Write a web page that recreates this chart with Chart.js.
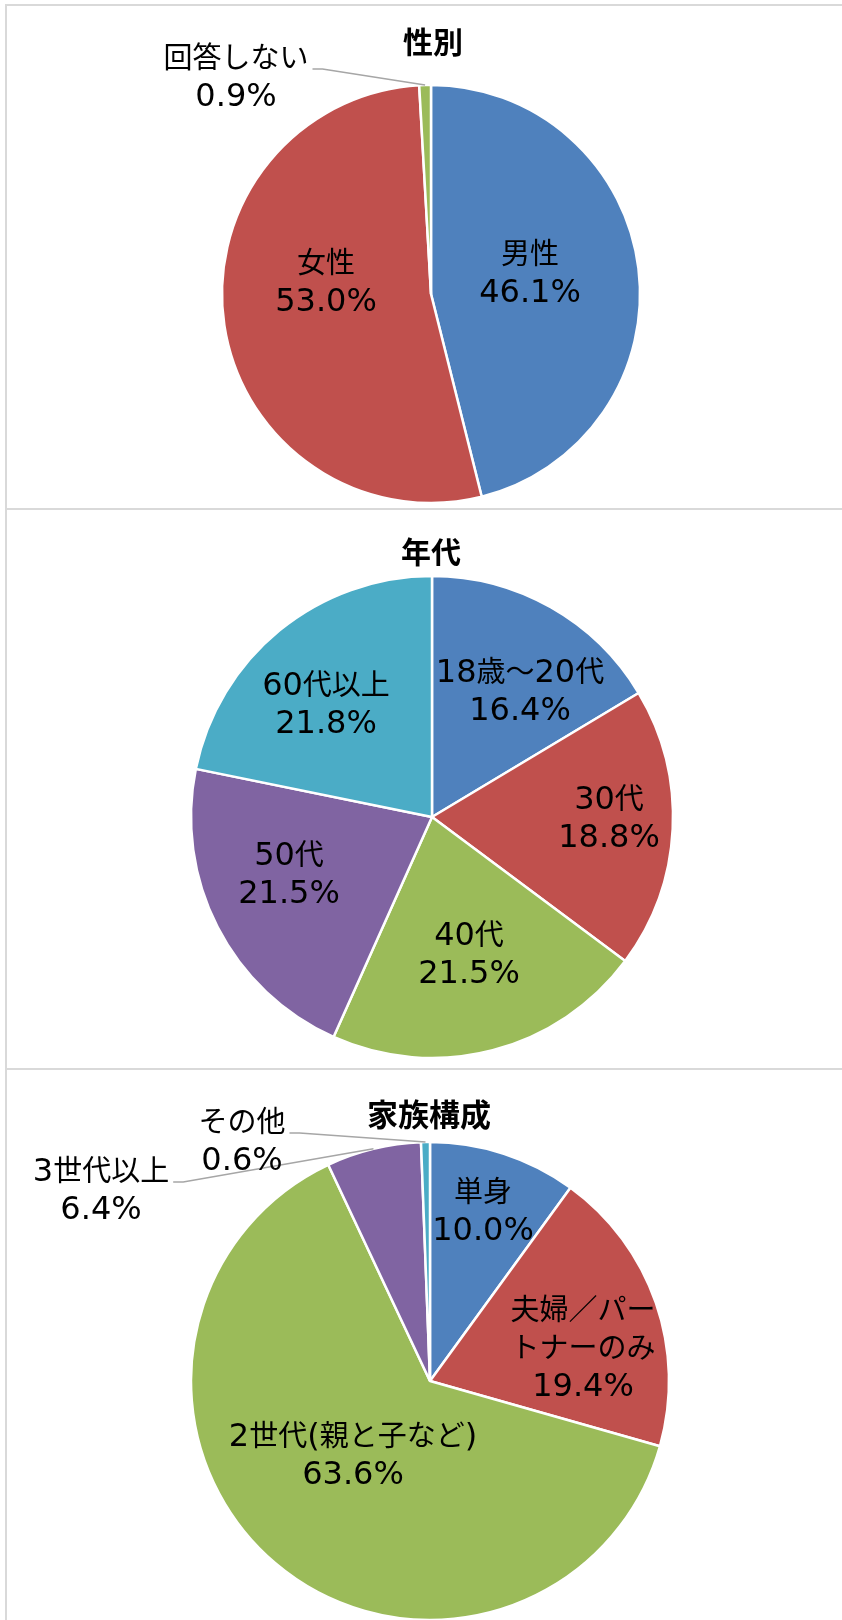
<!DOCTYPE html>
<html lang="ja">
<head>
<meta charset="utf-8">
<title>性別・年代・家族構成</title>
<script src="https://cdn.jsdelivr.net/npm/chart.js@4.4.1/dist/chart.umd.min.js"></script>
<style>
  body { margin: 0; background: #fff; width: 842px; height: 1620px; overflow: hidden; position: relative; }
  canvas { position: absolute; left: 0; }
  .rule { position: absolute; background: #d9d9d9; }
</style>
</head>
<body>
<div class="rule" style="left:5px;top:4px;width:2px;height:1616px"></div>
<div class="rule" style="left:5px;top:4px;width:837px;height:2px"></div>
<div class="rule" style="left:5px;top:508px;width:837px;height:2px"></div>
<div class="rule" style="left:5px;top:1068px;width:837px;height:2px"></div>

<canvas id="genderChart" width="842" height="509" style="top:0"></canvas>
<canvas id="ageChart" width="842" height="560" style="top:509px"></canvas>
<canvas id="familyChart" width="842" height="551" style="top:1069px"></canvas>

<script>
// chart data (percent)
const genderLabels = ['男性', '女性', '回答しない'];
const genderValues = [46.1, 53.0, 0.9];

const ageLabels = ['18歳～20代', '30代', '40代', '50代', '60代以上'];
const ageValues = [16.4, 18.8, 21.5, 21.5, 21.8];

const familyLabels = ['単身', '夫婦／パートナーのみ', '2世代(親と子など)', '3世代以上', 'その他'];
const familyValues = [10.0, 19.4, 63.6, 6.4, 0.6];

// Excel 2010 style palette
const palette = ['#4F81BD', '#C0504D', '#9BBB59', '#8064A2', '#4BACC6'];

const LATIN_FONT = '32px "DejaVu Sans"';
const CJK_FONT = '29px "Noto Sans CJK JP"';
const LINE_GAP = 38;

// label placement relative to the pie centre (Excel "best fit" look)
const genderLayout = [
    { dx: 99, dy: -22 },
    { dx: -105, dy: -13 },
    { dx: -195, dy: -218, leader: true }
];
const ageLayout = [
    { dx: 88, dy: -127 },
    { dx: 177, dy: 0 },
    { dx: 37, dy: 136 },
    { dx: -143, dy: 56 },
    { dx: -106, dy: -114 }
];
const familyLayout = [
    { dx: 53, dy: -171 },
    { dx: 153, dy: -34, wrap: 5 },
    { dx: -77, dy: 73 },
    { dx: -329, dy: -192, leader: true },
    { dx: -188, dy: -241, leader: true }
];

// draw text whose ASCII part uses a Latin font and the rest a CJK font
function drawMixed(ctx, text, cx, cy) {
    const runs = [];
    for (const ch of text) {
        const latin = ch.charCodeAt(0) < 128;
        const last = runs[runs.length - 1];
        if (last && last.latin === latin) last.t += ch;
        else runs.push({ t: ch, latin: latin });
    }
    let total = 0;
    runs.forEach(r => {
        ctx.font = r.latin ? LATIN_FONT : CJK_FONT;
        r.w = ctx.measureText(r.t).width;
        total += r.w;
    });
    let x = cx - total / 2;
    runs.forEach(r => {
        ctx.font = r.latin ? LATIN_FONT : CJK_FONT;
        ctx.fillText(r.t, x, cy + 11);
        x += r.w;
    });
    return total;
}

const pieLabels = {
    id: 'pieLabels',
    afterDatasetsDraw(chart, args, opts) {
        const ctx = chart.ctx;
        const meta = chart.getDatasetMeta(0);
        const names = chart.data.labels;
        const values = chart.data.datasets[0].data;
        ctx.save();
        ctx.textAlign = 'left';
        ctx.textBaseline = 'alphabetic';

        // title
        ctx.fillStyle = '#000';
        ctx.font = 'bold ' + opts.titleSize + 'px "Noto Sans CJK JP"';
        ctx.textAlign = 'center';
        ctx.fillText(opts.title, opts.titleX, opts.titleY + opts.titleSize * 0.38);
        ctx.textAlign = 'left';

        meta.data.forEach((arc, i) => {
            const lay = opts.layout[i];
            const name = names[i];
            const lines = lay.wrap ? [name.slice(0, lay.wrap), name.slice(lay.wrap)] : [name];
            lines.push(values[i].toFixed(1) + '%');
            const cx = arc.x + lay.dx;
            const top = arc.y + lay.dy - (lines.length - 1) * LINE_GAP / 2;
            ctx.fillStyle = '#000';
            let firstWidth = 0;
            lines.forEach((ln, k) => {
                const w = drawMixed(ctx, ln, cx, top + k * LINE_GAP);
                if (k === 0) firstWidth = w;
            });
            if (lay.leader) {
                const mid = (arc.startAngle + arc.endAngle) / 2;
                const ex = arc.x + Math.cos(mid) * arc.outerRadius;
                const ey = arc.y + Math.sin(mid) * arc.outerRadius;
                const sx = cx + firstWidth / 2 + 4;
                const sy = top + 12;
                ctx.strokeStyle = '#a6a6a6';
                ctx.lineWidth = 1.5;
                ctx.beginPath();
                ctx.moveTo(sx, sy);
                ctx.lineTo(sx + 10, sy);
                ctx.lineTo(ex, ey);
                ctx.stroke();
            }
        });
        ctx.restore();
    }
};

function makePie(id, labels, values, radius, padding, titleInfo, layout) {
    const ctx = document.getElementById(id).getContext('2d');
    return new Chart(ctx, {
        type: 'pie',
        data: {
            labels: labels,
            datasets: [{
                data: values,
                backgroundColor: palette.slice(0, values.length),
                borderColor: '#ffffff',
                borderWidth: 2.5
            }]
        },
        options: {
            responsive: false,
            animation: false,
            radius: radius,
            layout: { padding: padding },
            plugins: {
                legend: { display: false },
                tooltip: { enabled: false },
                pieLabels: Object.assign({ layout: layout }, titleInfo)
            }
        },
        plugins: [pieLabels]
    });
}

makePie('genderChart', genderLabels, genderValues, 209,
    { left: 20, right: 0, top: 79, bottom: 0 },
    { title: '性別', titleX: 433, titleY: 42, titleSize: 30 }, genderLayout);

makePie('ageChart', ageLabels, ageValues, 241,
    { left: 22, right: 0, top: 56, bottom: 0 },
    { title: '年代', titleX: 431, titleY: 43, titleSize: 30 }, ageLayout);

makePie('familyChart', familyLabels, familyValues, 239,
    { left: 18, right: 0, top: 73, bottom: 0 },
    { title: '家族構成', titleX: 429, titleY: 45, titleSize: 31 }, familyLayout);
</script>
</body>
</html>
